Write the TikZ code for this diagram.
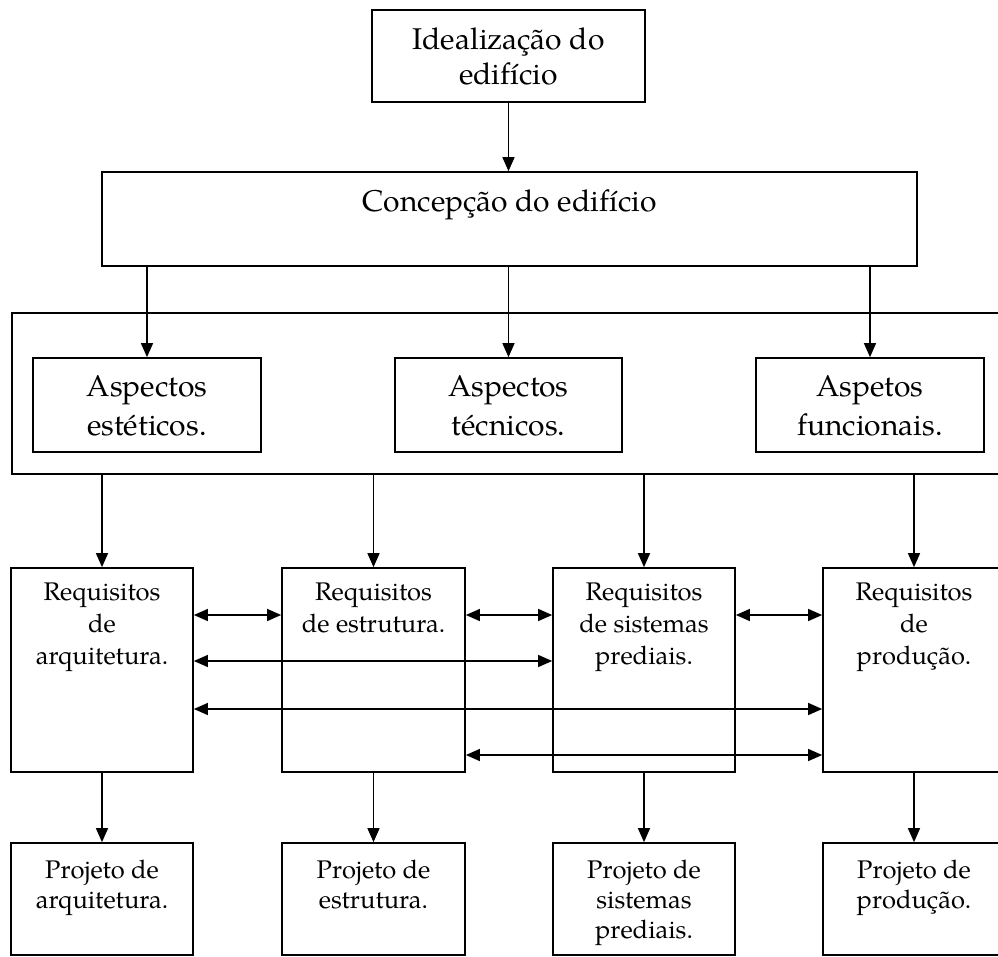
\documentclass[tikz,border=0pt]{standalone}
\usepackage{fontspec}
\setmainfont{TeX Gyre Pagella}
\usetikzlibrary{arrows.meta}
\begin{document}
\begin{tikzpicture}[x=1pt,y=-1pt,
  box/.style={draw, rectangle, line width=1.7pt, inner sep=0pt},
  big/.style={font=\fontsize{30}{35}\selectfont, align=center, inner sep=0pt},
  asp/.style={font=\fontsize{30}{38.5}\selectfont, align=center, inner sep=0pt, anchor=north},
  req/.style={font=\fontsize{25.5}{32}\selectfont, align=center, inner sep=0pt, anchor=north},
  proj/.style={font=\fontsize{25.5}{30}\selectfont, align=center, inner sep=0pt, anchor=north},
  tip/.style={Triangle[length=14pt,width=12pt]},
  arr/.style={-{Triangle[length=14pt,width=12pt]}, line width=1.4pt},
  dbl/.style={{Triangle[length=14pt,width=12pt]}-{Triangle[length=14pt,width=12pt]}, line width=1.4pt}]
\useasboundingbox (0,0) rectangle (998,956);

% top level
\node[box, minimum width=273pt, minimum height=92pt] (idea) at (508.5,56) {};
\node[big, anchor=north] (ideat) at (508.5,27.5) {Idealização do\\edifício};
\node[box, minimum width=815pt, minimum height=94pt] (conc) at (509.5,219) {};
\node[big, anchor=base] (conct) at (509.5,211) {Concepção do edifício};

% group of aspects
\node[box, minimum width=998pt, minimum height=161pt] (cont) at (511,393.5) {};
\node[box, minimum width=228pt, minimum height=94pt] (asp1) at (147,405) {};
\node[box, minimum width=227pt, minimum height=94pt] (asp2) at (508.5,405) {};
\node[box, minimum width=228pt, minimum height=94pt] (asp3) at (870,405) {};
\node[asp] (asp1t) at (147,375.5) {Aspectos\\estéticos.};
\node[asp] (asp2t) at (508.5,375.5) {Aspectos\\técnicos.};
\node[asp] (asp3t) at (870,375.5) {Aspetos\\funcionais.};

% requirements
\node[box, minimum width=182pt, minimum height=204pt] (req1) at (102,670) {};
\node[box, minimum width=183pt, minimum height=204pt] (req2) at (373.5,670) {};
\node[box, minimum width=182pt, minimum height=204pt] (req3) at (644,670) {};
\node[box, minimum width=182pt, minimum height=204pt] (req4) at (914,670) {};
\node[req] (req1t) at (102,583) {Requisitos\\de\\arquitetura.};
\node[req] (req2t) at (373.5,583) {Requisitos\\de estrutura.};
\node[req] (req3t) at (644,583) {Requisitos\\de sistemas\\prediais.};
\node[req] (req4t) at (914,583) {Requisitos\\de\\produção.};

% projects
\node[box, minimum width=182pt, minimum height=112pt] (proj1) at (102,899) {};
\node[box, minimum width=183pt, minimum height=112pt] (proj2) at (373.5,899) {};
\node[box, minimum width=182pt, minimum height=112pt] (proj3) at (644,899) {};
\node[box, minimum width=182pt, minimum height=112pt] (proj4) at (914,899) {};
\node[proj] (proj1t) at (102,860) {Projeto de\\arquitetura.};
\node[proj] (proj2t) at (373.5,860) {Projeto de\\estrutura.};
\node[proj] (proj3t) at (644,860) {Projeto de\\sistemas\\prediais.};
\node[proj] (proj4t) at (914,860) {Projeto de\\produção.};

% downward flow
\draw[arr] (idea.south) -- (idea.south |- conc.north);
\foreach \a in {asp1,asp2,asp3}
  \draw[arr] (\a.north |- conc.south) -- (\a.north);
\foreach \r in {req1,req2,req3,req4}
  \draw[arr] (\r.north |- cont.south) -- (\r.north);
\foreach \r/\p in {req1/proj1,req2/proj2,req3/proj3,req4/proj4}
  \draw[arr] (\r.south) -- (\p.north);

% mutual relations between requirements
\draw[dbl] (req1.east |- 0,615) -- (req2.west |- 0,615);
\draw[dbl] (req2.east |- 0,615) -- (req3.west |- 0,615);
\draw[dbl] (req3.east |- 0,615) -- (req4.west |- 0,615);
\draw[dbl] (req1.east |- 0,661) -- (req3.west |- 0,661);
\draw[dbl] (req1.east |- 0,709) -- (req4.west |- 0,709);
\draw[dbl] (req2.east |- 0,755) -- (req4.west |- 0,755);
\end{tikzpicture}
\end{document}
